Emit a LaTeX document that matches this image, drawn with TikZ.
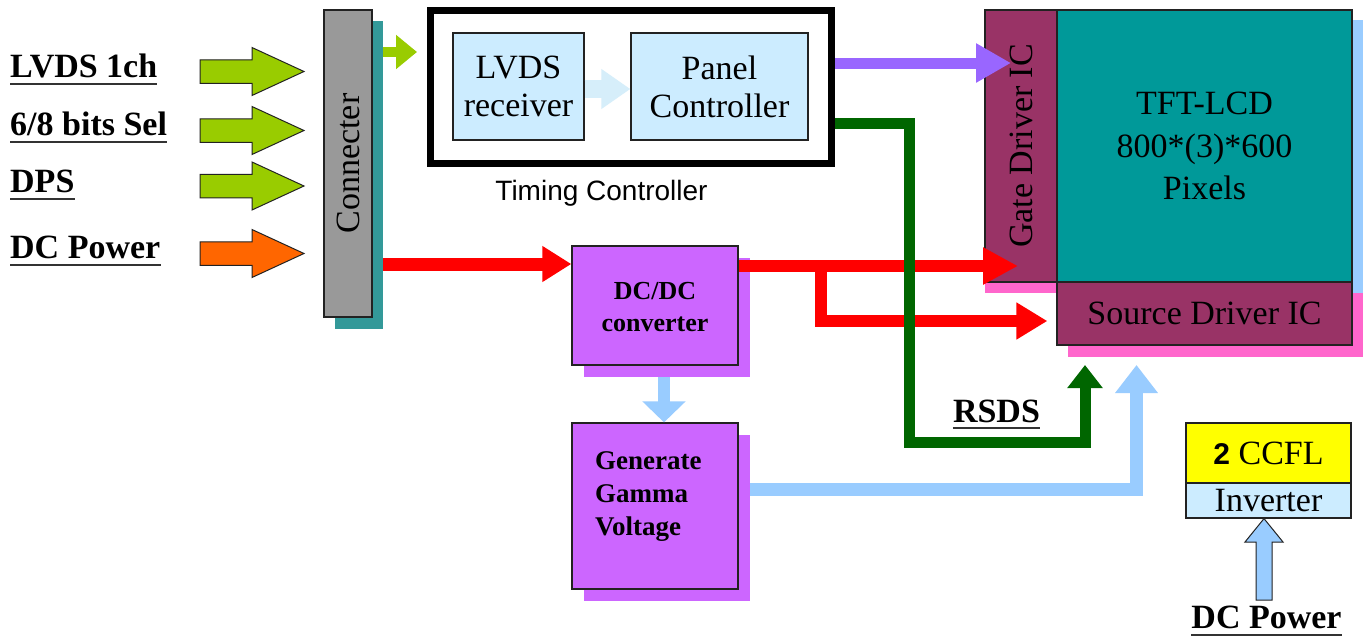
\documentclass[tikz,border=0pt]{standalone}
\usepackage{fontspec}
\setmainfont{Liberation Serif}
\newfontfamily\arialfont{Liberation Sans}
\usetikzlibrary{arrows.meta}
\definecolor{cgray}{HTML}{999999}
\definecolor{cteal}{HTML}{339999}
\definecolor{clime}{HTML}{99CC00}
\definecolor{corange}{HTML}{FF6600}
\definecolor{cpale}{HTML}{CCECFF}
\definecolor{cfaint}{HTML}{D6EEFA}
\definecolor{cpurple}{HTML}{9966FF}
\definecolor{cgreen}{HTML}{006600}
\definecolor{cred}{HTML}{FF0000}
\definecolor{cviolet}{HTML}{CC66FF}
\definecolor{clblue}{HTML}{99CCFF}
\definecolor{cmaroon}{HTML}{993366}
\definecolor{ctft}{HTML}{009999}
\definecolor{cpink}{HTML}{FF66CC}
\definecolor{cyellow}{HTML}{FFFF00}
\definecolor{coutline}{HTML}{222222}
\tikzset{
  x=1pt, y=-1pt,
  box/.style={draw=coutline, line width=1.2pt, inner sep=0pt, align=center},
  serif/.style={font=\rmfamily\mdseries\fontsize{34}{38}\selectfont},
  lbl/.style={inner sep=0pt, font=\rmfamily\bfseries\fontsize{34}{34}\selectfont},
  uline/.style={line width=1.8pt, draw=black!80},
  barrow/.pic={\path[pic actions] (0,-11.75) -- (52,-11.75) -- (52,-24) -- (104,0) -- (52,24) -- (52,11.75) -- (0,11.75) -- cycle;},
}
\begin{document}
\begin{tikzpicture}
\useasboundingbox (0,0) rectangle (1369,640);
\fill[white] (0,0) rectangle (1369,640);

% left labels
\node[lbl, anchor=base west] (l1) at (10,77) {LVDS 1ch};
\node[lbl, anchor=base west] (l2) at (10,135) {6/8 bits Sel};
\node[lbl, anchor=base west] (l3) at (10,192) {DPS};
\node[lbl, anchor=base west] (l4) at (10,258) {DC Power};
\foreach \n in {l1,l2,l3,l4}
  \draw[uline] ([yshift=-7pt]\n.base west) -- ([yshift=-7pt]\n.base east);

% left block arrows
\pic[fill=clime, draw=coutline, line width=1pt] at (200,71.5) {barrow};
\pic[fill=clime, draw=coutline, line width=1pt] at (200,130.5) {barrow};
\pic[fill=clime, draw=coutline, line width=1pt] at (200,186) {barrow};
\pic[fill=corange, draw=coutline, line width=1pt] at (200,253.5) {barrow};

% connecter
\fill[cteal] (335,21) rectangle (383,329);
\node[box, fill=cgray, rotate=90, minimum width=307, minimum height=48, serif] (conn) at (348,163.5) {Connecter};

% timing controller
\node[draw=black, line width=7pt, minimum width=401, minimum height=153, inner sep=0pt] (tc) at (631,87) {};
\node[box, fill=cpale, minimum width=131, minimum height=107, serif] (lvds) at (518.5,86.5) {LVDS\\receiver};
\node[box, fill=cpale, minimum width=177, minimum height=107, serif] (panel) at (719.5,86.5) {Panel\\Controller};
\node[anchor=base, inner sep=0pt, font=\arialfont\fontsize{28}{28}\selectfont] (tclabel) at (601.5,200) {Timing Controller};
\coordinate (fA) at (584,89);
\draw[line width=18pt, cfaint, -{Triangle[length=29pt,width=38pt]}] (fA -| lvds.east) -- (fA -| panel.west);

% lime arrow connecter -> timing controller
\coordinate (limeS) at (383,52);
\draw[line width=10pt, clime, -{Triangle[length=21pt,width=33pt]}, shorten >=10pt] (limeS) -- (limeS -| tc.west);

% LCD panel shadows
\fill[cpink] (985,282) rectangle (1068,293);
\fill[clblue] (1352,20) rectangle (1363,293);
\fill[cpink] (1068,293) rectangle (1363,357);

% LCD panel
\node[box, fill=cmaroon, rotate=90, minimum width=272, minimum height=72, serif] (gate) at (1021,146) {Gate Driver IC};
\node[box, fill=ctft, minimum width=295, minimum height=272, font=\rmfamily\fontsize{34}{42.5}\selectfont] (tft) at (1204.5,146) {TFT-LCD\\800*(3)*600\\Pixels};
\node[box, fill=cmaroon, minimum width=295, minimum height=63, serif] (src) at (1204.5,313.5) {Source Driver IC};

% DC/DC and gamma
\fill[cviolet] (584,258) rectangle (750,377);
\node[box, fill=cviolet, minimum width=166, minimum height=119] (dcdc) at (655,305.5) {};
\node[inner sep=0pt, align=center, font=\rmfamily\bfseries\fontsize{26}{32}\selectfont] (dcdct) at (655,307) {DC/DC\\converter};
\fill[cviolet] (584,435) rectangle (750,601);
\node[box, fill=cviolet, minimum width=166, minimum height=166] (gamma) at (655,506) {};
\node[anchor=north west, inner sep=0pt, align=left, font=\rmfamily\bfseries\fontsize{27}{33}\selectfont] (gammat) at (595,451.5) {Generate\\Gamma\\Voltage};

% purple arrow
\coordinate (pA) at (835,63);
\draw[line width=11pt, cpurple, -{Triangle[length=35pt,width=37pt]}, shorten >=10pt] (pA -| tc.east) -- (pA -| gate.west);

% red arrows
\coordinate (redS) at (383,264);
\draw[line width=13pt, cred, -{Triangle[length=29pt,width=34pt]}] (redS) -- (redS -| dcdc.west);
\coordinate (redB) at (821,266);
\draw[line width=12pt, cred, -{Triangle[length=35pt,width=35pt]}, shorten >=3pt] (redB -| dcdc.east) -- (redB -| gate.west);
\coordinate (redL) at (821,321);
\draw[line width=12pt, cred, -{Triangle[length=31pt,width=35pt]}, shorten >=9pt] ([yshift=6pt]redB) -- (redL) -- (redL -| src.west);

% green RSDS path
\coordinate (gA) at (909,123);
\coordinate (gB) at (909,442);
\coordinate (gC) at (1085,442);
\coordinate (gD) at (1085,365);
\draw[line width=11pt, cgreen, -{Triangle[length=23pt,width=34pt]}] (gA -| tc.east) -- (gA) -- (gB) -- (gC) -- (gD);
\node[lbl, anchor=base] (rsds) at (996.5,422) {RSDS};
\draw[uline] ([yshift=-6pt]rsds.base west) -- ([yshift=-6pt]rsds.base east);

% light blue arrows
\coordinate (dA) at (664,377);
\draw[line width=12pt, clblue, -{Triangle[length=21pt,width=42pt]}] (dA) -- (dA |- gamma.north);
\coordinate (bA) at (750,489);
\coordinate (bB) at (1136.5,489);
\coordinate (bC) at (1136.5,365);
\draw[line width=13pt, clblue, -{Triangle[length=28pt,width=41pt]}] (bA) -- (bB) -- (bC);

% CCFL and inverter
\node[box, fill=cyellow, minimum width=165, minimum height=60, serif] (ccfl) at (1268.5,453) {{\arialfont\bfseries\fontsize{30}{30}\selectfont 2} CCFL};
\node[box, fill=cpale, minimum width=165, minimum height=35, serif] (inv) at (1268.5,500.5) {Inverter};
\node[lbl, anchor=base] (dcp) at (1266.5,628) {DC Power};
\draw[uline] ([yshift=-7pt]dcp.base west) -- ([yshift=-7pt]dcp.base east);
\coordinate (iT) at (1264,600);
\draw[fill=clblue, draw=coutline, line width=1pt] (1256,600) -- (1256,542) -- (1245,542) -- (iT |- inv.south) -- (1283,542) -- (1272,542) -- (1272,600) -- cycle;
\end{tikzpicture}
\end{document}
